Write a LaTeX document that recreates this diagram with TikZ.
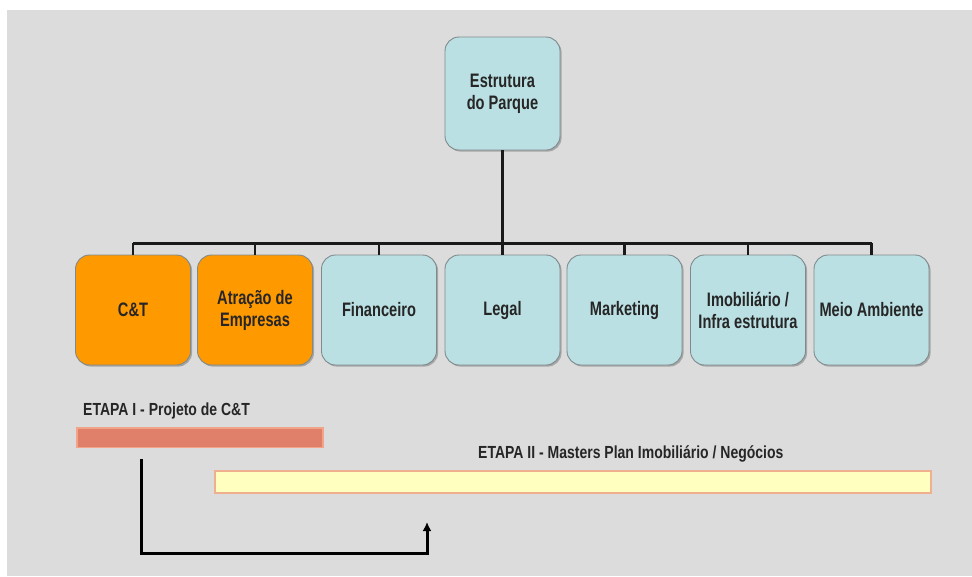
\documentclass[tikz,border=0pt]{standalone}
\usepackage{fontspec}
\setmainfont{Liberation Sans}[FakeStretch=0.75]
\newfontfamily\etapafont{Liberation Sans}[FakeStretch=0.8]
\usetikzlibrary{arrows.meta,shadows}
\definecolor{bggray}{HTML}{DCDCDC}
\definecolor{boxblue}{HTML}{BBE0E3}
\definecolor{boxorange}{HTML}{FF9900}
\definecolor{boxborder}{HTML}{7F8A8C}
\definecolor{barred}{HTML}{E0806A}
\definecolor{barredline}{HTML}{F2A48A}
\definecolor{baryellow}{HTML}{FFFFC0}
\definecolor{baryellowline}{HTML}{F0B090}
\definecolor{linedark}{HTML}{1A1A1A}
\tikzset{
  unitbox/.style={draw=boxborder, line width=0.9pt, rounded corners=14pt,
    minimum width=115pt, minimum height=110pt, align=center,
    font=\bfseries\fontsize{19.5}{22}\selectfont, text=black!85,
    drop shadow={shadow xshift=1.6pt, shadow yshift=-1.6pt, opacity=0.45, fill=black!60}},
  bluebox/.style={unitbox, fill=boxblue},
  orangebox/.style={unitbox, fill=boxorange},
  conn/.style={draw=linedark, line width=3pt},
  stub/.style={draw=linedark, line width=2.4pt},
  etapa/.style={font=\etapafont\bfseries\fontsize{17.5}{20}\selectfont, text=black!85, inner sep=0pt},
  redbar/.style={fill=barred, draw=barredline, line width=1.2pt},
  yellowbar/.style={fill=baryellow, draw=baryellowline, line width=1.5pt},
  flow/.style={draw=black, line width=3pt, -{Latex[length=9pt,width=9pt]}}
}
\begin{document}
\begin{tikzpicture}[x=1pt,y=-1pt]
\useasboundingbox (0,0) rectangle (972,576);
\fill[white] (0,0) rectangle (972,576);
\fill[bggray] (7,10) rectangle (972,576);

% top node
\node[bluebox, minimum height=113pt] (top) at (502.5,93.5) {Estrutura\\do Parque};

% children
\node[orangebox] (ct)   at (133,310)   {C\&T};
\node[orangebox] (atr)  at (255,310)   {Atração de\\Empresas};
\node[bluebox]   (fin)  at (379,310)   {Financeiro};
\node[bluebox]   (leg)  at (502.5,310) {Legal};
\node[bluebox]   (mkt)  at (624.5,310) {Marketing};
\node[bluebox]   (imo)  at (748,310)   {Imobiliário /\\Infra estrutura};
\node[bluebox]   (meio) at (871.5,310) {Meio Ambiente};

% bus
\coordinate (bus) at (0,243);
\draw[conn] (top.south) -- (top.south |- bus);
\draw[conn] (ct.north |- bus) -- (meio.north |- bus);
\foreach \n in {ct,atr,fin,leg,mkt,imo,meio}{
  \draw[stub] (\n.north) -- (\n.north |- bus);
}

% stage labels and bars
\node[etapa, anchor=base west] (e1) at (83,415) {ETAPA I - Projeto de C\&T};
\path[redbar] (77,428) rectangle (323,447.5);
\node[etapa, anchor=base west] (e2) at (478,458) {ETAPA II - Masters Plan Imobiliário / Negócios};
\path[yellowbar] (215,471) rectangle (931,493);

% flow arrow
\coordinate (a1) at (141,459);
\coordinate (a2) at (427,522);
\coordinate (a3) at (0,553);
\draw[flow] (a1) -- (a1 |- a3) -- (a2 |- a3) -- (a2);
\end{tikzpicture}
\end{document}
